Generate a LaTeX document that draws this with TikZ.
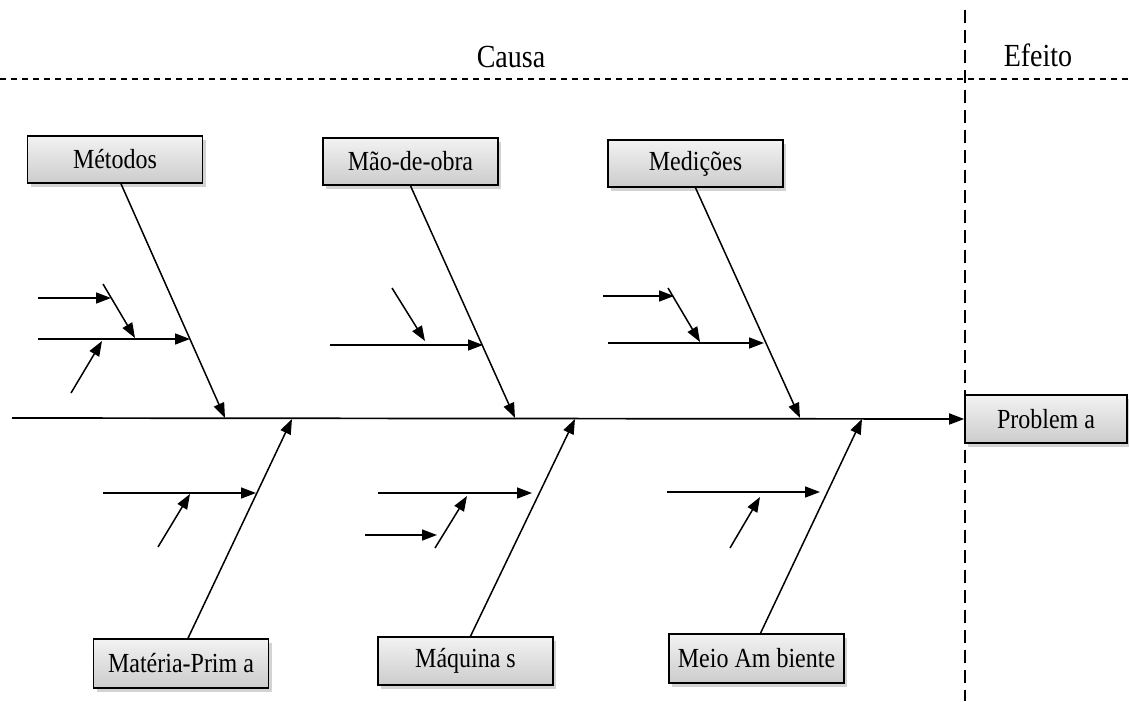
\documentclass[tikz,border=0pt]{standalone}
\usepackage{fontspec}
\usepackage{graphicx}
\setmainfont{Liberation Serif}
\usetikzlibrary{arrows.meta,shadows}
% slightly tall lettering used for all labels
\newcommand{\tallword}[1]{\scalebox{1}[1.15]{#1}}

\begin{document}
\begin{tikzpicture}[x=1pt,y=1pt,
  bone/.style={line width=1.5pt,-{Triangle[length=15pt,width=11pt]}},
  spine/.style={line width=1.7pt,-{Triangle[length=15pt,width=11pt]}},
  causebox/.style={draw=black,line width=1.6pt,top color=gray!10,bottom color=gray!40,
    minimum width=175pt,minimum height=47pt,inner sep=0pt,
    font=\fontsize{24}{28}\selectfont,
    drop shadow={shadow xshift=3pt,shadow yshift=-4pt,opacity=0.35}},
  hsep/.style={line width=1.2pt,dash pattern=on 6pt off 5pt},
  vsep/.style={line width=1.2pt,dash pattern=on 13pt off 7pt},
  head/.style={font=\fontsize{28}{32}\selectfont,inner sep=0pt}]

\useasboundingbox (0,0) rectangle (1129,-701);

% cause / effect separators
\draw[hsep] (0,-79) -- (1129,-79);
\draw[vsep] (965,-10) -- (965,-701);
\node[head] (causa) at (511,-57) {\tallword{Causa}};
\node[head] (efeito) at (1038,-55) {\tallword{Efeito}};

% category boxes
\node[causebox] (met) at (115,-159.5) {\tallword{Métodos}};
\node[causebox] (mao) at (410.5,-161.5) {\tallword{Mão-de-obra}};
\node[causebox] (med) at (695.5,-163.5) {\tallword{Medições}};
\node[causebox,minimum height=49pt] (mat) at (181,-663.5) {\tallword{Matéria-Prim a}};
\node[causebox,minimum height=48pt] (maq) at (465.5,-661) {\tallword{Máquina s}};
\node[causebox,minimum height=49pt] (mei) at (756.5,-658.5) {\tallword{Meio Am biente}};
\node[causebox,minimum width=162pt,minimum height=48pt] (prob) at (1046,-419) {\tallword{Problem a}};

% spine
\coordinate (tail) at (12,-418);
\draw[spine] (tail) -- (prob.west);

% main bones meeting the spine
\coordinate (jmet) at (225,-418);
\coordinate (jmao) at (515,-418);
\coordinate (jmed) at (800,-418);
\coordinate (jmat) at (292,-419);
\coordinate (jmaq) at (575,-419);
\coordinate (jmei) at (862,-419);
\draw[bone] ([xshift=6pt]met.south) -- (jmet);
\draw[bone] (mao.south) -- (jmao);
\draw[bone] (med.south) -- (jmed);
\draw[bone] ([xshift=7pt]mat.north) -- (jmat);
\draw[bone] ([xshift=5pt]maq.north) -- (jmaq);
\draw[bone] ([xshift=4pt]mei.north) -- (jmei);

% Métodos sub-causes
\coordinate (a1) at (38,-298);   \coordinate (a1t) at (111,-298);
\coordinate (a2) at (103,-284);  \coordinate (a2t) at (135,-338);
\coordinate (a3) at (38,-339);   \coordinate (a3t) at (190,-339);
\coordinate (a4) at (71,-393);   \coordinate (a4t) at (102,-341);
\draw[bone] (a1) -- (a1t);
\draw[bone] (a2) -- (a2t);
\draw[bone] (a3) -- (a3t);
\draw[bone] (a4) -- (a4t);

% Mão-de-obra sub-causes
\coordinate (b1) at (392,-288);  \coordinate (b1t) at (425,-341);
\coordinate (b2) at (330,-345);  \coordinate (b2t) at (483,-345);
\draw[bone] (b1) -- (b1t);
\draw[bone] (b2) -- (b2t);

% Medições sub-causes
\coordinate (c1) at (603,-296);  \coordinate (c1t) at (674,-296);
\coordinate (c2) at (668,-288);  \coordinate (c2t) at (700,-342);
\coordinate (c3) at (608,-343);  \coordinate (c3t) at (764,-343);
\draw[bone] (c1) -- (c1t);
\draw[bone] (c2) -- (c2t);
\draw[bone] (c3) -- (c3t);

% Matéria-Prima sub-causes
\coordinate (d1) at (103,-493);  \coordinate (d1t) at (256,-493);
\coordinate (d2) at (158,-547);  \coordinate (d2t) at (190,-494);
\draw[bone] (d1) -- (d1t);
\draw[bone] (d2) -- (d2t);

% Máquinas sub-causes
\coordinate (e1) at (378,-493);  \coordinate (e1t) at (532,-493);
\coordinate (e2) at (365,-535);  \coordinate (e2t) at (437,-535);
\coordinate (e3) at (435,-548);  \coordinate (e3t) at (467,-496);
\draw[bone] (e1) -- (e1t);
\draw[bone] (e2) -- (e2t);
\draw[bone] (e3) -- (e3t);

% Meio Ambiente sub-causes
\coordinate (f1) at (667,-492);  \coordinate (f1t) at (820,-492);
\coordinate (f2) at (730,-548);  \coordinate (f2t) at (760,-497);
\draw[bone] (f1) -- (f1t);
\draw[bone] (f2) -- (f2t);
\end{tikzpicture}
\end{document}
